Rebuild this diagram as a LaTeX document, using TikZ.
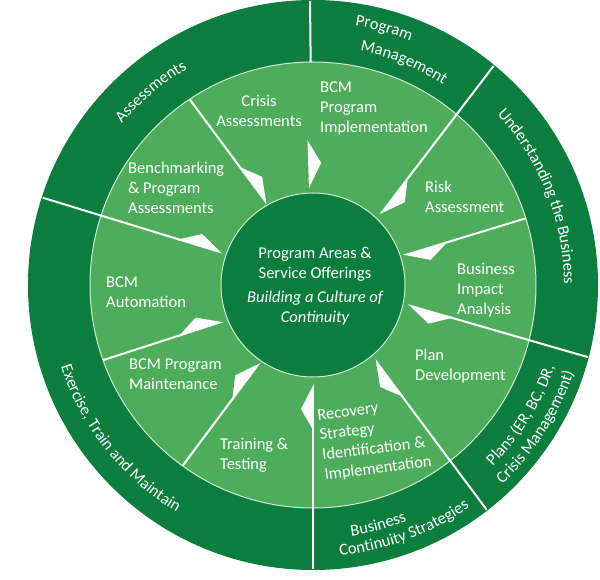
\documentclass[tikz,border=0pt]{standalone}
\usepackage{fontspec}
\setmainfont{Carlito}
\usepackage{tikz}
\usetikzlibrary{arrows.meta,positioning,decorations.text}
\definecolor{deep}{HTML}{0B7E3E}
\definecolor{leaf}{HTML}{4EAD5B}
\newcommand{\ringfont}{\fontsize{16.5}{20}\selectfont}

\begin{document}
\begin{tikzpicture}[x=1pt,y=1pt,
seg/.style={text=white,font=\ringfont,align=left,anchor=west,inner sep=0pt},
hub/.style={text=white,font=\ringfont,align=center,inner sep=0pt},
seam/.style={draw=white,line width=2pt},
pointer/.style={seam,-{Kite[left,length=44pt,width=24pt,inset=21pt]}},
arctext/.style={decorate,decoration={text along path,text align=center,
  text color=white,text={|\ringfont|#1}}}]
\useasboundingbox (-313,-295) rectangle (287,285);
% rings
\fill[deep] (0,0) circle[radius=285];
\filldraw[fill=leaf,draw=white!75!leaf,line width=1pt] (0,0) circle[radius=223];
\filldraw[fill=deep,draw=white!75!leaf,line width=1pt] (0,0) circle[radius=92];
% seams and pointers
\draw[seam] (90.6:284) -- (90.6:223);
\foreach \a/\r/\b/\s in {50.5/284/46.3/97, 17.4/223/18/95, -14.7/284/-12/97,
  -52.3/284/-50.4/97, -90/284/-90/99, 234.2/223/235.5/94,
  199.7/223/202/97, 162.1/284/160.4/96, 123.6/223/119.4/93}
  \draw[pointer] (\a:\r) -- (\b:\s);
\draw[pointer] (91.8:140) -- (91.8:97);
% outer ring
\path[arctext=Assessments] (160:250) arc[start angle=160,end angle=100,radius=250];
\path[arctext=Program] (94.5:263) arc[start angle=94.5,end angle=54.5,radius=263];
\path[arctext=Management] (97.8:239) arc[start angle=97.8,end angle=37.8,radius=239];
\path[arctext=Understanding the Business] (50:251) arc[start angle=50,end angle=-7,radius=251];
\path[arctext={Plans (ER, BC, DR,}] (-62:255) arc[start angle=-62,end angle=-2,radius=255];
\path[arctext={Crisis Management)}] (-62.5:275) arc[start angle=-62.5,end angle=-2.5,radius=275];
\path[arctext=Business] (-104.8:254) arc[start angle=-104.8,end angle=-44.8,radius=254];
\path[arctext=Continuity Strategies] (-99.6:272) arc[start angle=-99.6,end angle=-39.6,radius=272];
\path[arctext={Exercise, Train and Maintain}] (180:265) arc[start angle=180,end angle=257,radius=265];
% middle ring
\node[seg,align=center,anchor=center] (crisis) at (-54,174) {Crisis\\Assessments};
\node[seg] (impl) at (7,177) {BCM\\Program\\Implementation};
\node[seg] (risk) at (112,88) {Risk\\Assessment};
\node[seg] (bia) at (144,-5) {Business\\Impact\\Analysis};
\node[seg] (plan) at (102,-81) {Plan\\Development};
\node[seg,rotate=7] (recovery) at (8,-161) {Recovery\\Strategy\\Identification \&\\Implementation};
\node[seg] (training) at (-93,-170) {Training \&\\Testing};
\node[seg] (maint) at (-184,-89) {BCM Program\\Maintenance};
\node[seg] (autom) at (-207,-7) {BCM\\Automation};
\node[seg] (bench) at (-185,97) {Benchmarking\\\& Program\\Assessments};
% centre
\node[hub] (areas) at (2,21) {Program Areas \&\\Service Offerings};
\node[hub,font=\ringfont\itshape,below=10pt of areas] (culture) {Building a Culture of\\Continuity};
\end{tikzpicture}
\end{document}
